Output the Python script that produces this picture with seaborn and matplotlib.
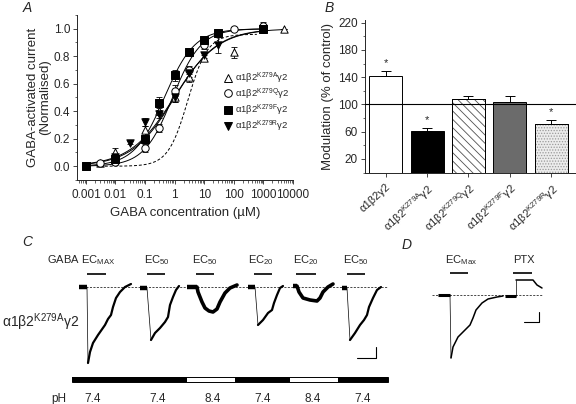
import numpy as np
import pandas as pd
import matplotlib
matplotlib.use("Agg")
import matplotlib.pyplot as plt
import matplotlib.transforms as mtransforms
from matplotlib.lines import Line2D
from matplotlib.patches import Rectangle
from matplotlib.ticker import FixedLocator, MultipleLocator, LogLocator, NullFormatter
import seaborn as sns

W, H = 576, 404

# ---------------- A: concentration-response (normalised current)
conc_A = [0.001, 0.003, 0.01, 0.1, 0.3, 1, 3, 10, 100, 5000]
resp_A = [0.00, 0.02, 0.10, 0.26, 0.40, 0.50, 0.65, 0.79, 0.83, 1.00]
err_A = [0.01, 0.01, 0.03, 0.03, 0.03, 0.03, 0.04, 0.02, 0.04, 0.0]

conc_Q = [0.001, 0.003, 0.01, 0.1, 0.3, 1, 3, 10, 30, 100, 1000]
resp_Q = [0.00, 0.02, 0.03, 0.13, 0.28, 0.55, 0.70, 0.88, 0.96, 1.00, 1.02]
err_Q = [0.01, 0.01, 0.02, 0.03, 0.03, 0.04, 0.03, 0.03, 0.02, 0.01, 0.03]

conc_F = [0.001, 0.01, 0.1, 0.3, 1, 3, 10, 30, 1000]
resp_F = [0.00, 0.05, 0.20, 0.46, 0.66, 0.83, 0.92, 0.97, 1.00]
err_F = [0.01, 0.02, 0.03, 0.04, 0.04, 0.02, 0.02, 0.01, 0.03]

conc_R = [0.001, 0.01, 0.03, 0.1, 0.3, 1, 3, 10, 30, 1000]
resp_R = [0.00, 0.07, 0.17, 0.32, 0.38, 0.50, 0.68, 0.81, 0.88, 1.00]
err_R = [0.01, 0.02, 0.01, 0.03, 0.03, 0.03, 0.03, 0.02, 0.06, 0.02]

# Hill fits: EC50 (uM), slope, max, and drawn range
fit_A = (1.0, 0.60, 1.0)
fit_Q = (0.85, 0.90, 1.0)
fit_F = (0.45, 0.85, 1.0)
fit_R = (0.95, 0.58, 1.0)
fit_wt = (2.8, 1.3, 0.96)
range_A = (0.001, 5000)
range_other = (0.001, 1000)
range_wt = (0.003, 600)

labels_A = ['α1β2$^{K279A}$γ2', 'α1β2$^{K279Q}$γ2', 'α1β2$^{K279F}$γ2', 'α1β2$^{K279R}$γ2']
xtick_vals_A = [0.001, 0.01, 0.1, 1, 10, 100, 1000, 10000]
xtick_labs_A = ['0.001', '0.01', '0.1', '1', '10', '100', '1000', '10000']

# ---------------- B: modulation
labels_B = ['α1β2γ2', 'α1β2$^{K279A}$γ2', 'α1β2$^{K279Q}$γ2', 'α1β2$^{K279F}$γ2', 'α1β2$^{K279R}$γ2']
mod_B = [142, 61, 108, 104, 72]
err_B = [7, 4, 4, 8, 5]
sig_B = [True, True, False, False, True]

# ---------------- C: current traces (time in s, current in arbitrary units)
trace_t = [
    [7, 15, 16, 18, 21, 26, 33, 36, 39, 41, 44, 48, 53, 59],
    [68, 75, 79, 83, 88, 93, 96, 98, 101, 104, 107],
    [115, 125, 126, 130, 133, 137, 141, 145, 148, 153, 158, 165],
    [176, 183, 186, 191, 196, 200, 202, 205, 208, 211],
    [221, 225, 227, 231, 238, 245, 248, 251, 256, 261],
    [270, 275, 278, 283, 288, 292, 295, 297, 301, 305, 309],
]
trace_i = [
    [0, 0, -76, -65, -56, -48, -38, -32, -28, -20, -11, -5, 0, 3],
    [-1, -1, -53, -46, -41, -35, -30, -18, -10, -3, 1],
    [0, 0, -5, -15, -21, -24, -25, -22, -15, -6, -1, 2],
    [0, 0, -38, -33, -26, -23, -16, -8, -1, 1],
    [1, 1, -5, -11, -13, -14, -11, -5, 0, 3],
    [-1, -1, -53, -46, -38, -33, -28, -20, -11, -3, 0],
]
trace_fast = [True, True, False, True, False, True]
app_start = [15, 75, 124, 182, 224, 275]
app_end = [34, 93, 142, 200, 244, 293]
app_labels = ['GABA EC$_{MAX}$', 'EC$_{50}$', 'EC$_{50}$', 'EC$_{20}$', 'EC$_{20}$', 'EC$_{50}$']
app_label_t = [9.5, 85, 133, 189, 233.5, 283.5]
ph_edges = [0, 115, 163, 218, 266, 316]
ph_vals = [7.4, 8.4, 7.4, 8.4, 7.4]
ph_label_t = [21, 86, 141, 191, 241, 291]
ph_labels = ['7.4', '7.4', '8.4', '7.4', '8.4', '7.4']

# ---------------- D: EC max and picrotoxin
d_t = [6, 18, 19, 21, 26, 33, 38, 41, 44, 50, 56, 65, 71]
d_i = [0, 0, -63, -52, -42, -35, -30, -23, -15, -8, -4, -2, -1]
ptx_t = [73, 84, 84, 101, 105, 110]
ptx_i = [-1, -1, 15, 15, 10, 7]
d_app_start = [18, 81]
d_app_end = [36, 100]
d_app_labels = ['EC$_{Max}$', 'PTX']
d_app_label_t = [29, 91.5]


def hill(c, ec50, nh, top):
    return top / (1 + (ec50 / c) ** nh)


def rect(x0, y0, x1, y1):
    return [x0 / W, 1 - y1 / H, (x1 - x0) / W, (y1 - y0) / H]


sns.set_theme(style="ticks")
plt.rcParams['font.family'] = ['Liberation Sans', 'DejaVu Sans']
plt.rcParams['mathtext.default'] = 'regular'
plt.rcParams['hatch.linewidth'] = 0.6
plt.rcParams['axes.linewidth'] = 0.7

fig = plt.figure(figsize=(W / 100, H / 100), dpi=100)

# ======== Panel A
axA = fig.add_axes(rect(77, 15, 293, 180))
axA.set_xscale('log')
series = [
    (conc_A, resp_A, err_A, fit_A, range_A, '^', 'white'),
    (conc_Q, resp_Q, err_Q, fit_Q, range_other, 'o', 'white'),
    (conc_F, resp_F, err_F, fit_F, range_other, 's', 'black'),
    (conc_R, resp_R, err_R, fit_R, range_other, 'v', 'black'),
]
grid_wt = np.logspace(np.log10(range_wt[0]), np.log10(range_wt[1]), 200)
sns.lineplot(x=grid_wt, y=hill(grid_wt, *fit_wt), color='black', lw=0.7,
             linestyle=(0, (3, 2)), ax=axA)
handles = []
for (conc, resp, err, fit, rng, mk, fc), lab in zip(series, labels_A):
    grid = np.logspace(np.log10(rng[0]), np.log10(rng[1]), 200)
    sns.lineplot(x=grid, y=hill(grid, *fit), color='black', lw=0.7, ax=axA)
    axA.errorbar(conc, resp, yerr=err, fmt='none', ecolor='black',
                 elinewidth=0.6, capsize=2, capthick=0.6, zorder=3)
    sns.scatterplot(x=conc, y=resp, marker=mk, color=fc, edgecolor='black',
                    linewidth=0.7, s=28, ax=axA, zorder=4)
    handles.append(Line2D([], [], marker=mk, ls='none', mfc=fc, mec='black',
                          ms=5.5, mew=0.7, label=lab))

axA.set_xlim(10 ** -3.3, 10 ** 4.0)
axA.set_ylim(-0.1, 1.1)
axA.xaxis.set_major_locator(FixedLocator(xtick_vals_A))
axA.set_xticklabels(xtick_labs_A)
axA.xaxis.set_minor_locator(LogLocator(base=10, subs=np.arange(2, 10), numticks=20))
axA.xaxis.set_minor_formatter(NullFormatter())
axA.set_yticks([0.0, 0.2, 0.4, 0.6, 0.8, 1.0])
axA.set_yticklabels(['0.0', '0.2', '0.4', '0.6', '0.8', '1.0'])
axA.yaxis.set_minor_locator(MultipleLocator(0.1))
axA.tick_params(which='major', labelsize=8.5, length=3, width=0.6, pad=2)
axA.tick_params(axis='x', pad=3.5)
axA.tick_params(which='minor', length=1.8, width=0.5)
axA.set_xlabel('GABA concentration (µM)', fontsize=9.5, labelpad=4)
axA.set_ylabel('GABA-activated current\n(Normalised)', fontsize=9.5, labelpad=2,
               linespacing=1.0)
sns.despine(ax=axA)
axA.legend(handles=handles, loc='center right', bbox_to_anchor=(1.0, 0.47),
           frameon=False, fontsize=6.8, handletextpad=0.2, labelspacing=0.12,
           handlelength=1.0, borderaxespad=0)
fig.text(27 / W, 1 - 8 / H, 'A', fontsize=10, style='italic', ha='center', va='center')

# ======== Panel B
axB = fig.add_axes(rect(365, 20, 576, 173))
df_B = pd.DataFrame({'receptor': labels_B, 'modulation': mod_B})
bar_colors = ['white', 'black', 'white', '#6b6b6b', '#ececec']
bar_hatches = [None, None, '\\\\\\\\', None, '......']
hatch_colors = [None, None, '#505050', None, '#9a9a9a']
sns.barplot(data=df_B, x='receptor', y='modulation', hue='receptor',
            palette=bar_colors, legend=False, width=0.8, saturation=1,
            edgecolor='black', linewidth=0.7, ax=axB)
for patch, hatch, hc in zip(axB.patches, bar_hatches, hatch_colors):
    if hatch:
        axB.add_patch(Rectangle(patch.get_xy(), patch.get_width(), patch.get_height(),
                                fill=False, hatch=hatch, edgecolor=hc, lw=0,
                                zorder=patch.get_zorder() + 0.1))
        axB.add_patch(Rectangle(patch.get_xy(), patch.get_width(), patch.get_height(),
                                fill=False, edgecolor='black', lw=0.7,
                                zorder=patch.get_zorder() + 0.2))
xpos = np.arange(len(mod_B))
axB.errorbar(xpos, mod_B, yerr=[np.zeros(len(err_B)), err_B], fmt='none',
             ecolor='black', elinewidth=0.7, capsize=3.5, capthick=0.7, zorder=5)
for x, m, e, s in zip(xpos, mod_B, err_B, sig_B):
    if s:
        axB.text(x, m + e + 12, '*', ha='center', va='center', fontsize=8)
axB.axhline(100, color='black', lw=0.8, zorder=6)
axB.set_xlim(-0.5, 4.6)
axB.set_ylim(-0.6, 224)
axB.set_yticks([20, 60, 100, 140, 180, 220])
axB.yaxis.set_minor_locator(MultipleLocator(20))
axB.set_xticks(xpos)
axB.set_xticklabels(labels_B, rotation=42, ha='right', rotation_mode='anchor', fontsize=8)
shift = mtransforms.ScaledTranslation(9 / 100, 0, fig.dpi_scale_trans)
for lab in axB.get_xticklabels():
    lab.set_transform(lab.get_transform() + shift)
axB.tick_params(which='major', labelsize=8.5, length=3, width=0.6, pad=2)
axB.tick_params(axis='x', labelsize=8, pad=3)
axB.tick_params(which='minor', length=1.8, width=0.5)
axB.set_xlabel('')
axB.set_ylabel('Modulation (% of control)', fontsize=9.5, labelpad=3)
sns.despine(ax=axB)
fig.text(329 / W, 1 - 8 / H, 'B', fontsize=10, style='italic', ha='center', va='center')

# ======== Panel C
axC = fig.add_axes(rect(0, 236, 400, 404))
axC.set_xlim(-72, 328)
axC.set_ylim(-117, 51)
axC.axis('off')
axC.plot([7, 315], [0, 0], color='black', lw=0.5, ls=(0, (3, 2)))
for t, i, fast in zip(trace_t, trace_i, trace_fast):
    axC.plot(t[:2], i[:2], color='black', lw=3.2, solid_capstyle='butt')
    if fast:
        axC.plot(t[1:3], i[1:3], color='black', lw=0.5)
        axC.plot(t[2:], i[2:], color='black', lw=1.6, solid_joinstyle='round')
    else:
        axC.plot(t[1:], i[1:], color='black', lw=2.6, solid_joinstyle='round')
for s, e, lab, lt in zip(app_start, app_end, app_labels, app_label_t):
    axC.plot([s, e], [13, 13], color='black', lw=1.2, solid_capstyle='butt')
    axC.text(lt, 27, lab, ha='center', va='center', fontsize=8)
for k in range(len(ph_vals)):
    col = 'black' if ph_vals[k] < 8 else 'white'
    axC.add_patch(Rectangle((ph_edges[k], -95), ph_edges[k + 1] - ph_edges[k], 5,
                            facecolor=col, edgecolor='none'))
axC.add_patch(Rectangle((ph_edges[0], -95), ph_edges[-1] - ph_edges[0], 5,
                        fill=False, edgecolor='black', lw=0.7))
axC.text(-13, -112, 'pH', ha='center', va='center', fontsize=8.5)
for lt, lab in zip(ph_label_t, ph_labels):
    axC.text(lt, -112, lab, ha='center', va='center', fontsize=8.5)
axC.plot([304, 304, 285], [-60, -71, -71], color='black', lw=0.8)
axC.text(-70, -35, 'α1β2$^{K279A}$γ2', ha='left', va='center', fontsize=10)
axC.text(-45, 45, 'C', ha='center', va='center', fontsize=10, style='italic')

# ======== Panel D
axD = fig.add_axes(rect(400, 236, 576, 404))
axD.set_xlim(-32, 144)
axD.set_ylim(-109, 59)
axD.axis('off')
axD.plot([0, 111], [0, 0], color='black', lw=0.5, ls=(0, (3, 2)))
axD.plot(d_t[:2], d_i[:2], color='black', lw=2.2, solid_capstyle='butt')
axD.plot(d_t[1:3], d_i[1:3], color='black', lw=0.5)
axD.plot(d_t[2:], d_i[2:], color='black', lw=1.1)
axD.plot(ptx_t[:2], ptx_i[:2], color='black', lw=2.2, solid_capstyle='butt')
axD.plot(ptx_t[1:3], ptx_i[1:3], color='black', lw=0.5)
axD.plot(ptx_t[2:], ptx_i[2:], color='black', lw=1.1)
for s, e, lab, lt in zip(d_app_start, d_app_end, d_app_labels, d_app_label_t):
    axD.plot([s, e], [22, 22], color='black', lw=1.2, solid_capstyle='butt')
    axD.text(lt, 35, lab, ha='center', va='center', fontsize=8)
axD.plot([107, 107, 92], [-17, -27, -27], color='black', lw=0.8)
axD.text(-25, 50, 'D', ha='center', va='center', fontsize=10, style='italic')

fig.savefig('out.png', dpi=100)
